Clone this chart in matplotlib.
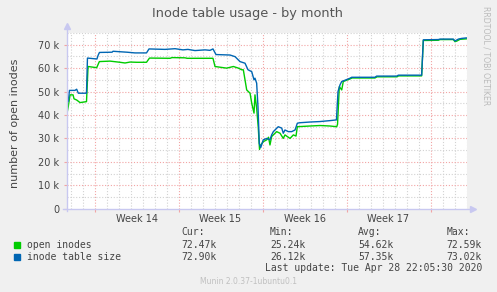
import matplotlib
matplotlib.use("Agg")
import matplotlib.pyplot as plt
from matplotlib.transforms import blended_transform_factory

# time in days from the left edge of the graph, values in thousands
size_days = [0.0, 0.13, 0.23, 0.69, 0.83, 0.97, 1.65, 1.73, 2.52, 2.62, 2.73, 3.78, 3.86,
             4.44, 5.03, 5.69, 6.65, 6.86, 8.19, 9.03, 9.69, 10.1, 10.69, 11.53, 11.94,
             12.19, 12.44, 13.61, 14.03, 14.44, 14.86, 15.11, 15.42, 15.61, 15.69, 15.83,
             15.94, 16.05, 16.17, 16.38, 16.67, 16.94, 17.08, 17.22, 17.63, 17.92, 18.05,
             18.19, 18.47, 18.75, 19.03, 19.22, 19.44, 20.28, 21.11, 21.94, 22.48, 22.61,
             22.78, 22.92, 23.03, 23.61, 23.75, 25.69, 25.83, 27.5, 27.64, 29.58, 29.72,
             30.97, 31.11, 32.22, 32.36, 32.64, 32.92, 33.3]
size_vals = [47.2, 45.7, 50.5, 50.5, 51.0, 49.3, 49.3, 64.3, 63.9, 65.5, 66.7, 66.8, 67.2,
             67.0, 66.8, 66.5, 66.5, 68.2, 68.0, 68.3, 67.8, 68.0, 67.5, 67.8, 67.6,
             68.2, 65.8, 65.6, 64.9, 62.8, 62.1, 59.3, 58.5, 55.0, 55.7, 53.6,
             43.6, 27.9, 26.1, 29.4, 30.0, 29.4, 31.5, 32.9, 35.0, 34.4, 32.2,
             33.6, 32.9, 32.9, 33.6, 36.5, 36.7, 37.0, 37.2, 37.6, 37.9, 50.0,
             52.9, 54.3, 54.5, 55.7, 56.1, 56.1, 56.6, 56.6, 57.0, 57.0, 72.1,
             72.2, 72.4, 72.4, 71.6, 72.4, 72.7, 72.9]

open_days = [0.0, 0.13, 0.28, 0.53, 0.61, 0.83, 1.11, 1.65, 1.78, 2.5, 2.72, 3.61, 4.44,
             4.86, 5.28, 5.83, 6.65, 6.9, 8.61, 8.78, 9.86, 10.03, 12.19, 12.36, 13.33,
             13.89, 14.31, 14.58, 14.72, 15.0, 15.28, 15.42, 15.61, 15.69, 15.83, 15.96,
             16.07, 16.17, 16.38, 16.67, 16.82, 16.94, 17.08, 17.22, 17.5, 17.78, 18.05,
             18.19, 18.61, 18.89, 19.11, 19.22, 20.28, 21.11, 21.94, 22.5, 22.57, 22.72,
             22.92, 23.05, 23.61, 23.78, 25.69, 25.86, 27.53, 27.65, 29.58, 29.72, 30.97,
             31.11, 32.22, 32.36, 32.53, 32.78, 33.3]
open_vals = [40.0, 43.6, 48.6, 48.6, 46.9, 46.4, 45.3, 45.7, 60.7, 60.2, 62.8, 63.0, 62.5,
             62.2, 62.6, 62.5, 62.5, 64.3, 64.2, 64.5, 64.4, 64.2, 64.2, 60.7, 60.0,
             60.7, 60.0, 59.3, 59.3, 50.7, 49.3, 45.0, 40.8, 48.6, 42.9, 35.0,
             25.3, 27.2, 28.6, 29.4, 30.5, 27.2, 30.8, 31.5, 32.9, 32.2, 30.0,
             31.5, 30.0, 31.5, 31.0, 35.0, 35.3, 35.5, 35.3, 35.0, 36.0, 52.1,
             50.7, 54.3, 55.4, 55.8, 55.8, 56.3, 56.3, 56.7, 56.7, 71.8, 71.9,
             72.2, 72.2, 71.3, 71.6, 72.3, 72.5]

week_labels = ["Week 14", "Week 15", "Week 16", "Week 17"]
week_starts = [2.32, 9.32, 16.32, 23.32, 30.32]

series_names = ["open inodes", "inode table size"]
cur_vals = ["72.47k", "72.90k"]
min_vals = ["25.24k", "26.12k"]
avg_vals = ["54.62k", "57.35k"]
max_vals = ["72.59k", "73.02k"]

GREEN = "#00cc00"
BLUE = "#0066b3"
TXT = "#444444"
W, H = 497, 292

fig = plt.figure(figsize=(W / 100, H / 100), dpi=100, facecolor="#f0f0f0")
ax = fig.add_axes([66.7 / W, 1 - 208.7 / H, 400.3 / W, 175.7 / H])
ax.set_facecolor("white")
ax.set_xlim(0, 33.36)
ax.set_ylim(0, 75)

# grid: days / 5k gray, weeks / 10k red
dots = dict(lw=0.8, ls=(0, (1, 1.6)), zorder=1)
for d in [0.33 + i for i in range(34)]:
    if all(abs(d - w) > 0.05 for w in week_starts):
        ax.axvline(d, color="#d2d2d2", **dots)
for w in week_starts:
    ax.axvline(w, color="#f2a4a4", **dots)
for v in range(5, 80, 10):
    ax.axhline(v, color="#d2d2d2", **dots)
for v in range(10, 80, 10):
    ax.axhline(v, color="#f2a4a4", **dots)

ax.plot(open_days, open_vals, color=GREEN, lw=1.0, zorder=3)
ax.plot(size_days, size_vals, color=BLUE, lw=1.0, zorder=4)

for s in ax.spines.values():
    s.set_visible(False)
# axes with arrows
ax.plot([-0.01, 1.012], [0, 0], transform=ax.transAxes, color="#c8c8f0", lw=1, clip_on=False, zorder=5)
ax.plot([0, 0], [-0.015, 1.035], transform=ax.transAxes, color="#c8c8f0", lw=1, clip_on=False, zorder=5)
ax.plot([1.014], [0], marker=">", ms=4, color="#c8c8f0", transform=ax.transAxes, clip_on=False)
ax.plot([0], [1.04], marker="^", ms=4, color="#c8c8f0", transform=ax.transAxes, clip_on=False)

ax.set_yticks(range(0, 80, 10))
ax.set_yticklabels(["0"] + ["%d k" % v for v in range(10, 80, 10)])
ax.set_xticks(week_starts)
ax.set_xticklabels([])
ax.tick_params(axis="y", length=2.5, color="#f2a4a4", labelsize=7, labelcolor=TXT, pad=3)
ax.tick_params(axis="x", length=2.5, color="#f2a4a4")

tr = blended_transform_factory(ax.transData, fig.transFigure)
for i, lab in enumerate(week_labels):
    ax.text(week_starts[i] + 3.5, 1 - 219 / H, lab, transform=tr, ha="center", va="center",
            fontsize=7, color=TXT)

fig.text(248 / W, 1 - 14 / H, "Inode table usage - by month", ha="center", va="center",
         fontsize=9.3, color="#555555")
fig.text(15 / W, 1 - 123 / H, "number of open inodes", rotation=90, ha="center", va="center",
         fontsize=8, color=TXT)
fig.text(486 / W, 1 - 56 / H, "RRDTOOL / TOBI OETIKER", rotation=270, ha="center", va="center",
         fontsize=5.6, color="#bbbbbb")

mono = "DejaVu Sans Mono"
fs = 7
ys = [1 - 245 / H, 1 - 256.7 / H]
hy = 1 - 232 / H
cols = [181.7, 270, 358.3, 446.7]
for x, h in zip(cols, ["Cur:", "Min:", "Avg:", "Max:"]):
    fig.text(x / W, hy, h, family=mono, fontsize=fs, color=TXT, va="center")
for i, c in enumerate([GREEN, BLUE]):
    fig.patches.append(plt.Rectangle((14 / W, ys[i] - 3 / H), 6 / W, 6 / H, color=c,
                                     transform=fig.transFigure, figure=fig))
    fig.text(26.7 / W, ys[i], series_names[i], family=mono, fontsize=fs, color=TXT, va="center")
    for x, v in zip(cols, [cur_vals[i], min_vals[i], avg_vals[i], max_vals[i]]):
        fig.text(x / W, ys[i], v, family=mono, fontsize=fs, color=TXT, va="center")
fig.text(482.7 / W, 1 - 268.3 / H, "Last update: Tue Apr 28 22:05:30 2020", family=mono,
         fontsize=fs, color=TXT, ha="right", va="center")
fig.text(248 / W, 1 - 281 / H, "Munin 2.0.37-1ubuntu0.1", ha="center", va="center",
         fontsize=5.5, color="#c0c0c0")

fig.savefig("out.png", dpi=100, facecolor=fig.get_facecolor())
